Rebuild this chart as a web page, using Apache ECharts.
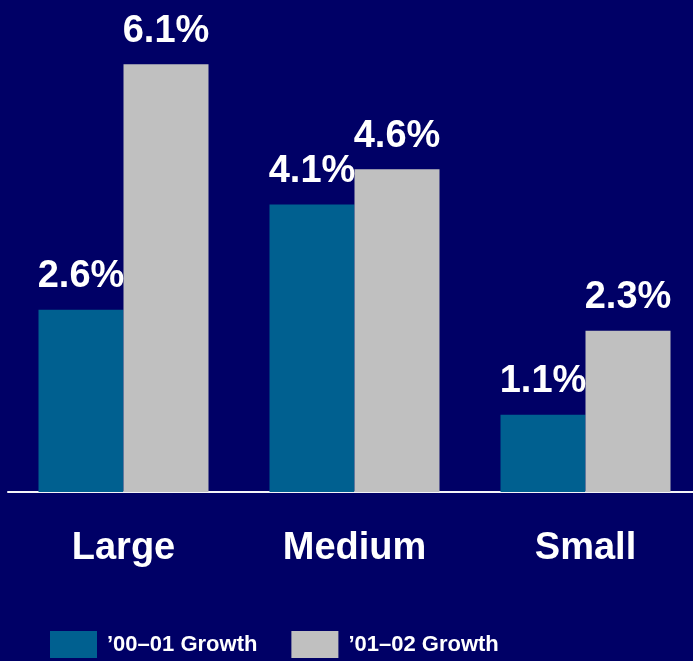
<!DOCTYPE html>
<html>
<head>
<meta charset="utf-8">
<script src="https://cdn.jsdelivr.net/npm/echarts@6/dist/echarts.min.js"></script>
<style>
  html, body { margin: 0; padding: 0; background: #000066; }
  #chart { width: 693px; height: 661px; }
</style>
</head>
<body>
<div id="chart"></div>
<script>
// Company size segments and growth rates (%)
const categories = ['Large', 'Medium', 'Small'];
const growth0001 = [2.6, 4.1, 1.1];
const growth0102 = [6.1, 4.6, 2.3];
const seriesNames = ['\u201900\u201301 Growth', '\u201901\u201302 Growth'];

const chart = echarts.init(document.getElementById('chart'));

const valueLabel = {
  show: true,
  position: 'top',
  distance: 14,
  color: '#ffffff',
  fontFamily: 'Liberation Sans, Arial, sans-serif',
  fontWeight: 'bold',
  fontSize: 38,
  formatter: p => p.value.toFixed(1) + '%'
};

chart.setOption({
  backgroundColor: '#000066',
  animation: false,
  grid: { left: 8, top: 1, width: 693, bottom: 169, containLabel: false, outerBoundsMode: 'none' },
  legend: {
    left: 50,
    top: 631,
    padding: 0,
    itemWidth: 47,
    itemHeight: 27,
    itemGap: 34,
    icon: 'rect',
    textStyle: {
      color: '#ffffff',
      fontFamily: 'Liberation Sans, Arial, sans-serif',
      fontWeight: 'bold',
      fontSize: 22,
      padding: [0, 0, 0, 5]
    },
    data: seriesNames
  },
  xAxis: {
    type: 'category',
    data: categories,
    axisLine: { show: true, lineStyle: { color: '#f4f4f8', width: 2 } },
    axisTick: { show: false },
    axisLabel: {
      color: '#ffffff',
      fontFamily: 'Liberation Sans, Arial, sans-serif',
      fontWeight: 'bold',
      fontSize: 38,
      margin: 38
    }
  },
  yAxis: {
    type: 'value',
    min: 0,
    max: 7,
    show: false,
    splitLine: { show: false }
  },
  series: [
    {
      name: seriesNames[0],
      type: 'bar',
      data: growth0001,
      barWidth: 85,
      barGap: '0%',
      itemStyle: { color: '#006090' },
      label: valueLabel
    },
    {
      name: seriesNames[1],
      type: 'bar',
      data: growth0102,
      barWidth: 85,
      barGap: '0%',
      itemStyle: { color: '#c0c0c0' },
      label: valueLabel
    }
  ]
});
</script>
</body>
</html>
